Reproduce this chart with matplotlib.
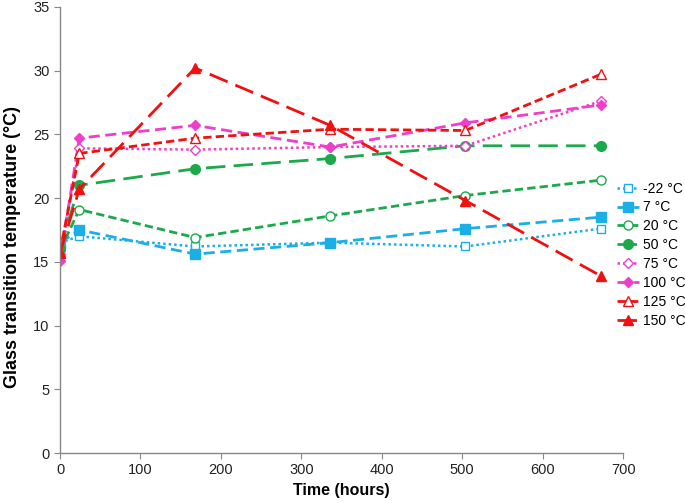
import numpy as np
import matplotlib
matplotlib.use("Agg")
import matplotlib.pyplot as plt

plt.rcParams['font.family'] = ['Liberation Sans', 'DejaVu Sans']

# temps de vieillissement (heures)
hours = [0, 24, 168, 336, 504, 672]

# Tg pour chaque temperature
tg_m22 = [16.5, 17.0, 16.2, 16.5, 16.2, 17.6]
tg_7 = [16.5, 17.5, 15.6, 16.5, 17.6, 18.5]
tg_20 = [15.9, 19.1, 16.9, 18.6, 20.2, 21.4]
tg_50 = [16.0, 21.0, 22.3, 23.1, 24.1, 24.1]
tg_75 = [15.6, 23.9, 23.8, 24.0, 24.1, 27.6]
tg_100 = [15.1, 24.7, 25.7, 24.0, 25.9, 27.3]
tg_125 = [15.8, 23.5, 24.7, 25.4, 25.3, 29.7]
tg_150 = [15.7, 20.7, 30.2, 25.7, 19.8, 13.9]

labels = ['-22 °C', '7 °C', '20 °C', '50 °C', '75 °C', '100 °C', '125 °C', '150 °C']

cyan = '#1AAFE6'
green = '#1BA94C'
pink = '#F03DCB'
red = '#F01010'

fig = plt.figure(figsize=(6.85, 5.03), dpi=100)
ax = fig.add_axes([0.0876, 0.0994, 0.822, 0.887])

ax.plot(hours, tg_m22, color=cyan, ls=(0, (1, 1.2)), lw=1.8, marker='s', ms=6,
        mfc='white', mec=cyan, mew=1, label=labels[0])
ax.plot(hours, tg_7, color=cyan, ls=(0, (4, 2)), lw=2, marker='s', ms=6.5,
        mfc=cyan, mec=cyan, label=labels[1])
ax.plot(hours, tg_20, color=green, ls=(0, (3, 1.5)), lw=2, marker='o', ms=6.5,
        mfc='white', mec=green, mew=1, label=labels[2])
ax.plot(hours, tg_50, color=green, ls=(0, (7, 3)), lw=2, marker='o', ms=7,
        mfc=green, mec=green, label=labels[3])
ax.plot(hours, tg_75, color=pink, ls=(0, (1, 1.2)), lw=1.8, marker='D', ms=5.5,
        mfc='white', mec=pink, mew=1, label=labels[4])
ax.plot(hours, tg_100, color=pink, ls=(0, (4, 2)), lw=2, marker='D', ms=5.5,
        mfc=pink, mec=pink, label=labels[5])
ax.plot(hours, tg_125, color=red, ls=(0, (3, 1.5)), lw=2, marker='^', ms=6.5,
        mfc='white', mec=red, mew=1, label=labels[6])
ax.plot(hours, tg_150, color=red, ls=(0, (7, 3)), lw=2, marker='^', ms=7,
        mfc=red, mec=red, label=labels[7])

ax.set_xlim(0, 700)
ax.set_ylim(0, 35)
ax.set_xticks(np.arange(0, 701, 100))
ax.set_yticks(np.arange(0, 36, 5))
for s in ['top', 'right']:
    ax.spines[s].set_visible(False)
for s in ['left', 'bottom']:
    ax.spines[s].set_color('#888888')
    ax.spines[s].set_linewidth(1)
ax.tick_params(colors='#888888', labelcolor='#222222', labelsize=10.5, length=4)
ax.set_xlabel('Time (hours)', fontsize=11.5, fontweight='bold', labelpad=4)
ax.set_ylabel('Glass transition temperature (°C)', fontsize=13, fontweight='bold')
ax.yaxis.set_label_coords(-0.07, 0.462)

ax.legend(loc='upper left', bbox_to_anchor=(0.892, 0.65), bbox_transform=fig.transFigure,
          frameon=False, fontsize=10, handlelength=1.6, handletextpad=0.3,
          labelspacing=0.35, borderaxespad=0)

fig.savefig('out.png', dpi=100)
